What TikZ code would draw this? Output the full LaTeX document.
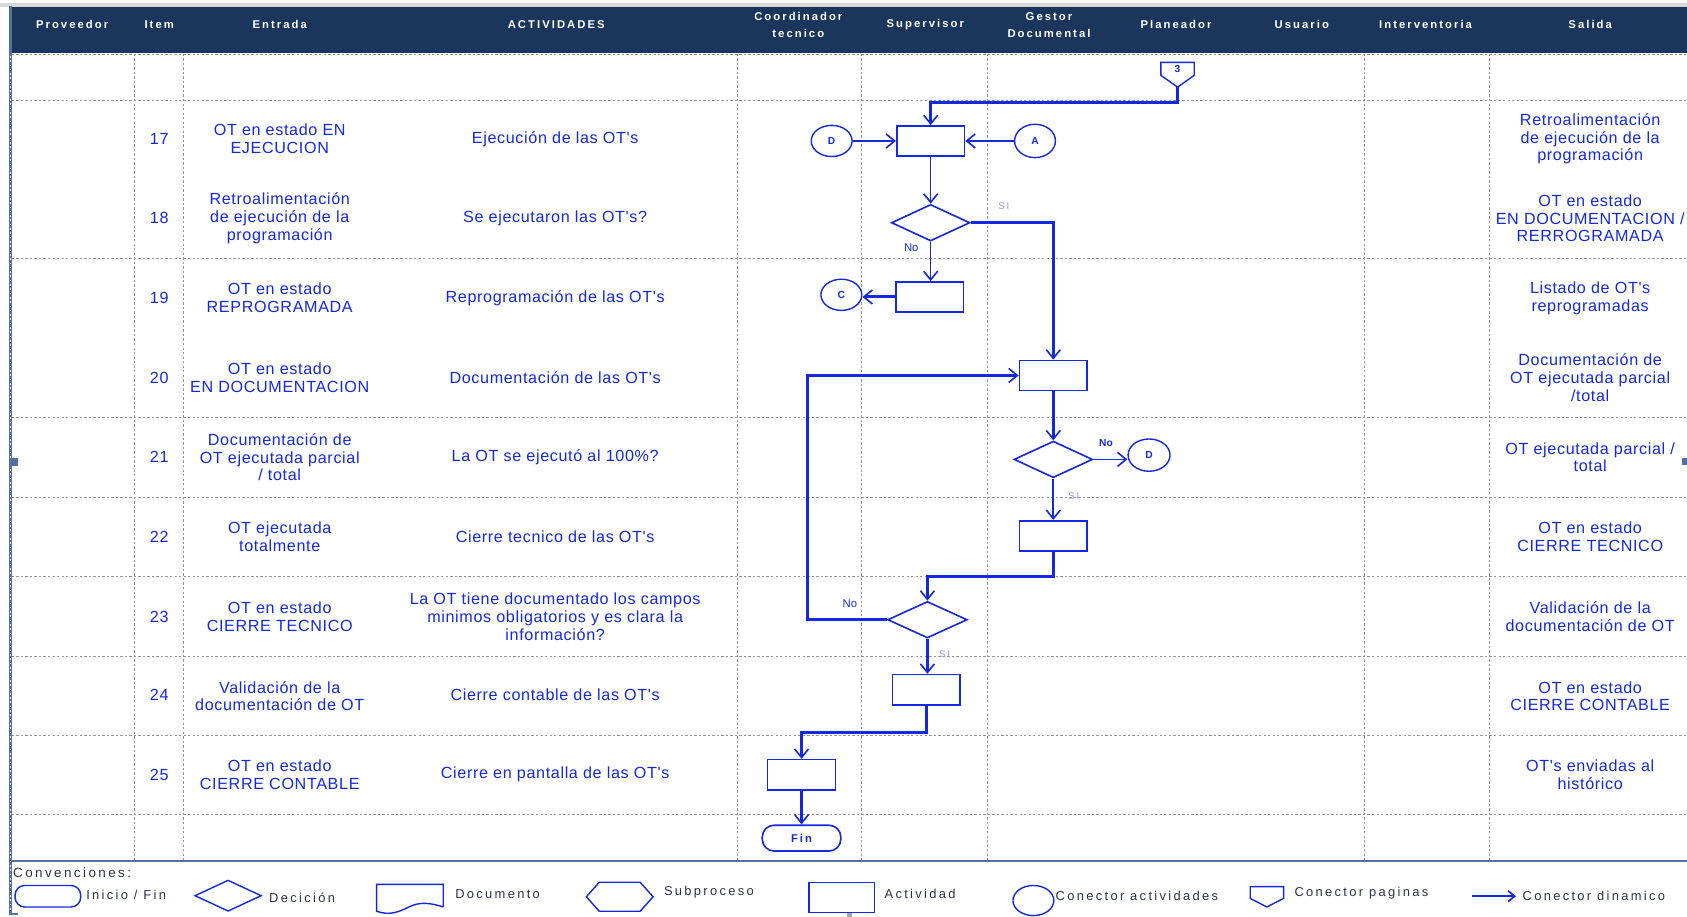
\documentclass[tikz,border=0pt]{standalone}
\usepackage{fontspec}
\setmainfont{Liberation Sans}
\newfontfamily\spacedfont{Liberation Sans}[LetterSpace=18]
\newfontfamily\legendfont{Liberation Sans}[LetterSpace=18]
\newfontfamily\cellfont{Liberation Sans}[LetterSpace=4]
\usetikzlibrary{arrows.meta,shapes.geometric,calc}

\definecolor{headnavy}{RGB}{27,54,92}
\definecolor{flowblue}{RGB}{20,40,225}
\definecolor{gridgrey}{RGB}{150,150,150}
\definecolor{framesteel}{RGB}{84,112,160}
\definecolor{silabel}{RGB}{150,150,235}
\definecolor{legendink}{RGB}{45,50,70}

\tikzset{
  gridline/.style={gridgrey, line width=0.9pt, dash pattern=on 2.2pt off 2pt},
  headtext/.style={text=white, font=\spacedfont\bfseries\fontsize{10.5}{16}\selectfont, align=center, inner sep=0pt},
  celltext/.style={text=flowblue, font=\cellfont\fontsize{15}{16.5}\selectfont, align=center, inner sep=0pt},
  actbox/.style={draw=flowblue, line width=1.5pt, rectangle, minimum width=63pt, minimum height=28pt, inner sep=0pt},
  decbox/.style={draw=flowblue, line width=1.5pt, diamond, minimum width=73pt, minimum height=34pt, inner sep=0pt},
  linkcirc/.style={draw=flowblue, line width=1.3pt, ellipse, minimum width=38pt, minimum height=29pt, inner sep=0pt,
    text=flowblue, font=\bfseries\fontsize{9.5}{9.5}\selectfont},
  endcap/.style={draw=flowblue, line width=1.5pt, rectangle, rounded corners=11pt, minimum width=73pt, minimum height=24pt,
    inner sep=0pt, text=flowblue, font=\spacedfont\bfseries\fontsize{10.5}{10.5}\selectfont},
  barb/.style={-{Straight Barb[length=8pt,width=13pt,line width=1.5pt]}},
  flowthin/.style={draw=flowblue, line width=1.5pt, barb},
  flowmid/.style={draw=flowblue, line width=2.2pt, barb},
  flowthick/.style={draw=flowblue, line width=2.8pt, barb},
  silab/.style={text=silabel, font=\spacedfont\fontsize{9}{9}\selectfont, inner sep=0pt},
  nolab/.style={text=flowblue, font=\fontsize{10.5}{10.5}\selectfont, inner sep=0pt},
  legendtext/.style={text=legendink, font=\legendfont\fontsize{12}{12}\selectfont, inner sep=0pt, anchor=west},
  legendshape/.style={draw=flowblue, line width=1.3pt},
}

\begin{document}
\begin{tikzpicture}[x=1pt,y=-1pt]
\useasboundingbox (0,0) rectangle (1568,852);

% ---------- frame and header ----------
\fill[gray!30] (0,2.5) rectangle (1568,6.5);
\fill[headnavy] (9,6.5) rectangle (1568,49.5);

% grid of rows and lanes
\foreach \yy in {50.5,93,240,388,462,536,610,684,757}
  \draw[gridline] (11,\yy) -- (1568,\yy);
\foreach \xx in {125,171,685,801,918,1268,1384}
  \draw[gridline] (\xx,50) -- (\xx,800);

\draw[framesteel, line width=1.6pt] (10,800.5) -- (1568,800.5);
\draw[framesteel, line width=2.6pt] (10,6) -- (10,849.5);
\draw[white, line width=0.6pt, dash pattern=on 1.5pt off 2.5pt] (10,52) -- (10,847);
\draw[framesteel, line width=2.6pt] (8.7,849.5) -- (17,849.5);
\fill[framesteel] (8.5,426) rectangle (17,433);
\fill[framesteel] (1563,426) rectangle (1568,432);
\fill[gray!70] (787,848) rectangle (792,852);

% ---------- header labels ----------
\node[headtext] (hProv)  at (67,23)   {Proveedor};
\node[headtext] (hItem)  at (148,23)  {Item};
\node[headtext] (hEnt)   at (260,23)  {Entrada};
\node[headtext] (hAct)   at (517,23)  {ACTIVIDADES};
\node[headtext] (hCoord) at (742,23)  {Coordinador\\tecnico};
\node[headtext] (hSup)   at (860,23)  {Supervisor};
\node[headtext] (hGest)  at (975,23)  {Gestor\\Documental};
\node[headtext] (hPlan)  at (1093,23) {Planeador};
\node[headtext] (hUsu)   at (1210,23) {Usuario};
\node[headtext] (hInt)   at (1325,23) {Interventoria};
\node[headtext] (hSal)   at (1478,23) {Salida};

% ---------- item numbers ----------
\foreach \num/\yy in {17/129,18/203,19/277,20/351,21/425,22/499,23/573,24/646,25/720}
  \node[celltext] (it\num) at (148,\yy) {\num};

% ---------- inputs ----------
\node[celltext] (in17) at (260,129) {OT en estado EN\\EJECUCION};
\node[celltext] (in18) at (260,203) {Retroalimentación\\de ejecución de la\\programación};
\node[celltext] (in19) at (260,277) {OT en estado\\REPROGRAMADA};
\node[celltext] (in20) at (260,351) {OT en estado\\EN DOCUMENTACION};
\node[celltext] (in21) at (260,425) {Documentación de\\OT ejecutada parcial\\/ total};
\node[celltext] (in22) at (260,499) {OT ejecutada\\totalmente};
\node[celltext] (in23) at (260,573) {OT en estado\\CIERRE TECNICO};
\node[celltext] (in24) at (260,647) {Validación de la\\documentación de OT};
\node[celltext] (in25) at (260,720) {OT en estado\\CIERRE CONTABLE};

% ---------- activities ----------
\node[celltext] (ac17) at (516,129) {Ejecución de las OT's};
\node[celltext] (ac18) at (516,203) {Se ejecutaron las OT's?};
\node[celltext] (ac19) at (516,277) {Reprogramación de las OT's};
\node[celltext] (ac20) at (516,351) {Documentación de las OT's};
\node[celltext] (ac21) at (516,425) {La OT se ejecutó al 100\%?};
\node[celltext] (ac22) at (516,499) {Cierre tecnico de las OT's};
\node[celltext] (ac23) at (516,573) {La OT tiene documentado los campos\\minimos obligatorios y es clara la\\información?};
\node[celltext] (ac24) at (516,646) {Cierre contable de las OT's};
\node[celltext] (ac25) at (516,720) {Cierre en pantalla de las OT's};

% ---------- outputs ----------
\node[celltext] (out17) at (1478,129) {Retroalimentación\\de ejecución de la\\programación};
\node[celltext] (out18) at (1478,203) {OT en estado\\EN DOCUMENTACION /\\RERROGRAMADA};
\node[celltext] (out19) at (1478,277) {Listado de OT's\\reprogramadas};
\node[celltext] (out20) at (1478,351) {Documentación de\\OT ejecutada parcial\\/total};
\node[celltext] (out21) at (1478,425) {OT ejecutada parcial /\\total};
\node[celltext] (out22) at (1478,499) {OT en estado\\CIERRE TECNICO};
\node[celltext] (out23) at (1478,573) {Validación de la\\documentación de OT};
\node[celltext] (out24) at (1478,647) {OT en estado\\CIERRE CONTABLE};
\node[celltext] (out25) at (1478,720) {OT's enviadas al\\histórico};

% ---------- flow shapes ----------
% off-page connector 3
\draw[flowblue, line width=1.3pt] (1079,58) -- (1110,58) -- (1110,70) -- (1094.5,81) -- (1079,70) -- cycle;
\node[text=flowblue, font=\bfseries\fontsize{9.5}{9.5}\selectfont, inner sep=0pt] (pg3) at (1094.5,64.5) {3};
\coordinate (pg3tip) at (1094.5,81);

\node[actbox] (a17) at (865,131) {};
\node[linkcirc] (cD1) at (773,131) {D};
\node[linkcirc, minimum height=31pt] (cA) at (962,131) {A};
\node[decbox] (d18) at (865,207) {};
\node[actbox] (a19) at (864,276) {};
\node[linkcirc] (cC) at (782,274) {C};
\node[actbox] (a20) at (979,349) {};
\node[decbox] (d21) at (979,427) {};
\node[linkcirc, minimum width=39pt, minimum height=30pt] (cD2) at (1068,423) {D};
\node[actbox] (a22) at (979,498) {};
\node[decbox, minimum width=74pt] (d23) at (862,576) {};
\node[actbox] (a24) at (861,641) {};
\node[actbox] (a25) at (745,720) {};
\node[endcap] (fin) at (745,779) {Fin};

% ---------- connectors ----------
\draw[flowthick] (pg3tip) -- ++(0,14) -| (a17.north);
\draw[flowthin] (cD1) -- (a17);
\draw[flowthin] (cA) -- (a17);
\draw[flowthin] (a17) -- (d18);
\draw[flowthick] (d18.east) -| (a20.north);
\node[silab] (si18) at (933,192) {SI};
\draw[flowthin] (d18.south) -- (a19.north -| d18.south);
\node[nolab] (no18) at (847,230) {No};
\draw[flowthick] (a19.west) -- (cC.east |- a19.west);
\draw[flowthick] (a20) -- (d21);
\draw[flowthin] (d21.east) -- (cD2.west |- d21.east);
\node[nolab, font=\bfseries\fontsize{9.5}{9.5}\selectfont] (no21) at (1028,412) {No};
\draw[flowmid] (d21) -- (a22);
\node[silab] (si21) at (998,461) {SI};
\draw[flowthick] (a22.south) -- ++(0,23) -| (d23.north);
\draw[flowthick] (d23.west) -- ++(-74,0) |- (a20.west);
\node[nolab] (no23) at (790,561) {No};
\draw[flowmid] (d23.south) -- (a24.north -| d23.south);
\node[silab] (si23) at (878,608) {SI};
\draw[flowthick] (a24.south) -- ++(0,25) -| (a25.north);
\draw[flowmid] (a25) -- (fin);

% ---------- legend ----------
\node[legendtext, font=\legendfont\fontsize{12.5}{12.5}\selectfont] (lgTitle) at (12,811) {Convenciones:};

\node[legendshape, rectangle, rounded corners=9pt, minimum width=61pt, minimum height=20pt, inner sep=0pt] (lgTerm) at (44.5,833) {};
\node[legendtext] (lgTermTx) at (80,832) {Inicio / Fin};

\node[legendshape, diamond, minimum width=62pt, minimum height=29pt, inner sep=0pt] (lgDec) at (212,832.5) {};
\node[legendtext] (lgDecTx) at (250,834) {Decición};

\draw[legendshape] (412,843) -- (412,822) -- (350,822) -- (350,847)
  .. controls (362,851) and (370,848) .. (380,843)
  .. controls (390,838) and (400,839) .. (412,843);
\coordinate (lgDoc) at (381,834);
\node[legendtext] (lgDocTx) at (423,831) {Documento};

\draw[legendshape] (545,833.5) -- (557,820) -- (595,820) -- (607,833.5) -- (595,847) -- (557,847) -- cycle;
\coordinate (lgSub) at (576,833.5);
\node[legendtext] (lgSubTx) at (617,829) {Subproceso};

\node[legendshape, rectangle, minimum width=61pt, minimum height=28pt, inner sep=0pt] (lgAct) at (782.5,834) {};
\node[legendtext] (lgActTx) at (822,831) {Actividad};

\node[legendshape, ellipse, minimum width=38pt, minimum height=28pt, inner sep=0pt] (lgCon) at (960.5,837) {};
\node[legendtext] (lgConTx) at (981,833) {Conector actividades};

\draw[legendshape] (1162,824) -- (1193,824) -- (1193,835) -- (1177.5,843) -- (1162,835) -- cycle;
\coordinate (lgPag) at (1177.5,832);
\node[legendtext] (lgPagTx) at (1203,830) {Conector paginas};

\coordinate (lgArrA) at (1368,833);
\coordinate (lgArrB) at (1409,833);
\draw[draw=flowblue, line width=1.6pt, -{Straight Barb[length=6pt,width=10pt,line width=1.6pt]}] (lgArrA) -- (lgArrB);
\node[legendtext] (lgArrTx) at (1415,833) {Conector dinamico};

\end{tikzpicture}
\end{document}
